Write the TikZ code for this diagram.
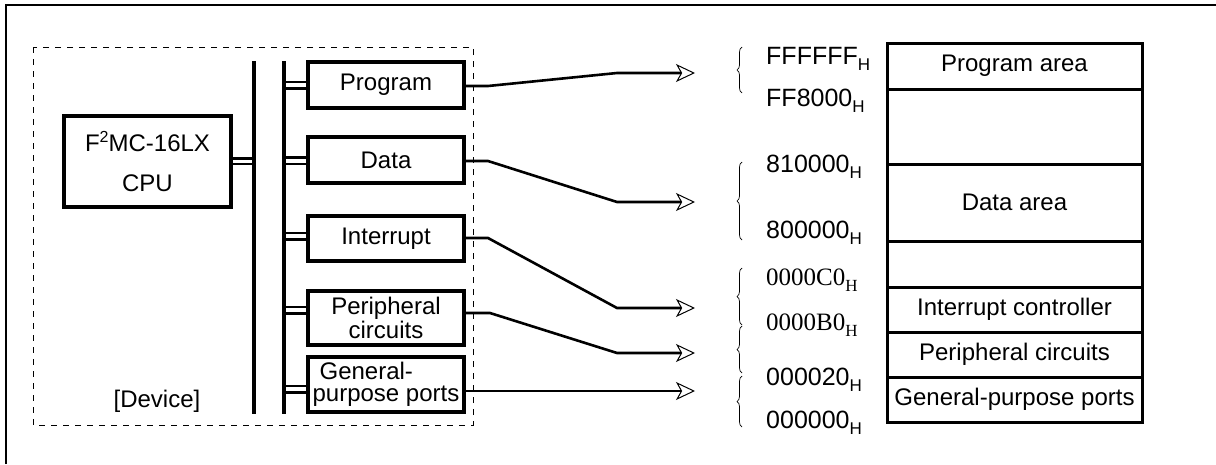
\documentclass[tikz,border=0pt]{standalone}
\usepackage{fontspec}
\setmainfont{Liberation Sans}
\newfontfamily\serifnum{Liberation Serif}
\usetikzlibrary{arrows.meta,decorations.pathreplacing}
\newcommand\hsub[1]{\raisebox{-6pt}{\fontsize{17}{17}\selectfont #1}}
\newcommand\hsup[1]{\raisebox{9pt}{\fontsize{16}{16}\selectfont #1}}
\begin{document}
\begin{tikzpicture}[x=1pt,y=-1pt,
  every node/.style={font=\fontsize{24}{20}\selectfont, inner sep=0pt},
  blk/.style={draw, line width=3.2pt, align=center, minimum width=156pt},
  bus/.style={line width=3.2pt},
  link/.style={line width=2.6pt},
  conn/.style={line width=2.6pt, -{Stealth[open,length=19pt,width=18pt,inset=5pt,line width=1pt]}},
  brc/.style={decorate, decoration={brace,amplitude=5pt}, line width=0.7pt},
  addr/.style={anchor=base west, font=\fontsize{25}{20}\selectfont},
  cell/.style={draw, line width=3pt, minimum width=255pt}
]
\useasboundingbox (0,0) rectangle (1216,464);
% outer frame (only top and left visible)
\draw[line width=2pt] (6,464) -- (6,5) -- (1216,5);
% device dashed box
\draw[line width=1pt, dash pattern=on 6pt off 6pt] (33,47) rectangle (473,425);
\node[anchor=base] (dev) at (157,407) {[Device]};

% CPU
\node[blk, minimum width=167pt, minimum height=91pt, font=\fontsize{24}{40}\selectfont] (cpu) at (147.5,161.5) {F\hsup{2}MC-16LX\\CPU};

% buses
\coordinate (b1t) at (254,61); \coordinate (b1b) at (254,414);
\coordinate (b2t) at (284,61); \coordinate (b2b) at (284,414);
\draw[bus] (b1t) -- (b1b);
\draw[bus] (b2t) -- (b2b);

% blocks
\node[blk, minimum height=46pt] (prog) at (386,85) {Program};
\node[blk, minimum height=46pt] (data) at (386,160) {Data};
\node[blk, minimum height=45pt] (intr) at (386,238.5) {Interrupt};
\node[blk, minimum height=54pt, font=\fontsize{24}{20}\selectfont] (peri) at (386,318) {Peripheral\\circuits};
\node[blk, minimum height=55pt, align=left, font=\fontsize{24}{22}\selectfont] (gen) at (386,384.5) {\hspace*{7pt}General-\\purpose ports};

% double links
\foreach \n/\y in {prog/82, data/157.5, intr/233, peri/307, gen/386}{
  \draw[link] (284,\y) -- (\n.west |- 0,\y);
  \draw[link] (284,\y+6.5) -- (\n.west |- 0,\y+6.5);
}
\draw[link] (cpu.east |- 0,158.5) -- (254,158.5);
\draw[link] (cpu.east |- 0,164) -- (254,164);

% memory map
\node[cell, minimum height=46pt] (m1) at (1014.5,66) {Program area};
\node[cell, minimum height=75pt] (m2) at (1014.5,126.5) {};
\node[cell, minimum height=77pt] (m3) at (1014.5,202.5) {Data area};
\node[cell, minimum height=46pt] (m4) at (1014.5,264) {};
\node[cell, minimum height=45pt] (m5) at (1014.5,309.5) {Interrupt controller};
\node[cell, minimum height=45pt] (m6) at (1014.5,354.5) {Peripheral circuits};
\node[cell, minimum height=45pt] (m7) at (1014.5,399.5) {General-purpose ports};

% arrow targets
\coordinate (t1) at (695,73);
\coordinate (t2) at (695,202);
\coordinate (t3) at (695,308);
\coordinate (t4) at (695,353);
\coordinate (t5) at (695,391);

\draw[conn] (prog.east |- 0,86) -- (488,86) -- (617,73) -- (t1);
\draw[conn] (data.east |- 0,161) -- (488,161) -- (617,202) -- (t2);
\draw[conn] (intr.east |- 0,238) -- (488,238) -- (617,308) -- (t3);
\draw[conn] (peri.east |- 0,313) -- (490,313) -- (617,353) -- (t4);
\draw[conn] (gen.east |- 0,391) -- (t5);

% braces
\draw[brc] (742,93) -- (742,47);
\draw[brc] (742,240) -- (742,162);
\draw[brc] (742,325) -- (742,268);
\draw[brc] (742,373) -- (742,326);
\draw[brc] (742,427) -- (742,376);

% addresses
\node[addr] (a1) at (766,64) {FFFFFF\hsub{H}};
\node[addr] (a2) at (766,106) {FF8000\hsub{H}};
\node[addr] (a3) at (766,172) {810000\hsub{H}};
\node[addr] (a4) at (766,238) {800000\hsub{H}};
\node[addr, font=\serifnum\fontsize{25}{20}\selectfont] (a5) at (766,285) {0000C0\hsub{H}};
\node[addr, font=\serifnum\fontsize{25}{20}\selectfont] (a6) at (766,330) {0000B0\hsub{H}};
\node[addr] (a7) at (766,385) {000020\hsub{H}};
\node[addr] (a8) at (766,428) {000000\hsub{H}};
\end{tikzpicture}
\end{document}
